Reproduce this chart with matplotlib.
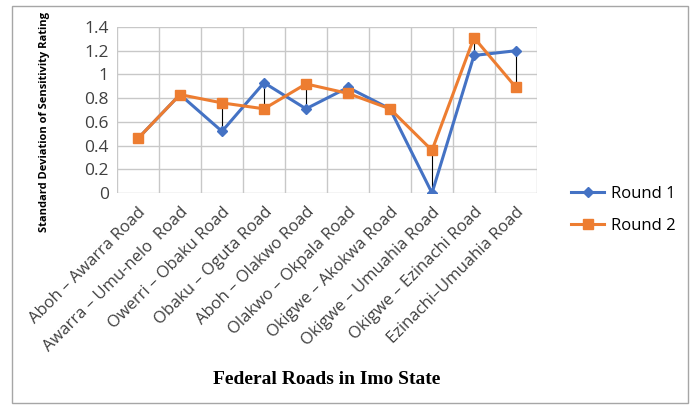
import matplotlib
matplotlib.use('Agg')
import matplotlib.pyplot as plt
import numpy as np

# data
roads = ['Aboh – Awarra Road', 'Awarra – Umu-nelo  Road', 'Owerri – Obaku Road',
         'Obaku – Oguta Road', 'Aboh – Olakwo Road', 'Olakwo – Okpala Road',
         'Okigwe – Akokwa Road', 'Okigwe – Umuahia Road', 'Okigwe – Ezinachi Road',
         'Ezinachi–Umuahia Road']
round1 = [0.46, 0.83, 0.52, 0.93, 0.71, 0.89, 0.71, 0.0, 1.16, 1.20]
round2 = [0.46, 0.83, 0.76, 0.71, 0.92, 0.84, 0.71, 0.36, 1.31, 0.89]

blue = '#4472C4'
orange = '#ED7D31'

fig = plt.figure(figsize=(6.93, 4.05), dpi=100)
ax = fig.add_axes([117/693, 1 - 193/405, 420/693, 166/405])

x = np.arange(len(roads))

# high-low lines
ax.vlines(x, np.minimum(round1, round2), np.maximum(round1, round2),
          color='black', lw=0.8, zorder=2)

ax.plot(x, round1, color=blue, lw=2.2, marker='D', ms=5, label='Round 1', zorder=3)
ax.plot(x, round2, color=orange, lw=2.2, marker='s', ms=6.5, label='Round 2', zorder=4)

ax.set_xlim(-0.5, len(roads) - 0.5)
ax.set_ylim(0, 1.4)
ax.set_yticks(np.arange(0, 1.41, 0.2))
ax.set_yticklabels(['0', '0.2', '0.4', '0.6', '0.8', '1', '1.2', '1.4'],
                   fontsize=12.5, family='Open Sans', color='#404040')

# grid at category boundaries
for b in np.arange(-0.5, len(roads), 1.0):
    ax.axvline(b, color='#C8C8C8', lw=1, zorder=0)
ax.grid(axis='y', color='#C8C8C8', lw=1, zorder=0)
ax.set_axisbelow(True)

ax.set_xticks(x)
ax.set_xticklabels(roads, rotation=45, ha='right', rotation_mode='anchor',
                   fontsize=12, family='Open Sans', color='#404040')
ax.tick_params(length=0, pad=6)
ax.tick_params(axis='x', pad=8)
for s in ax.spines.values():
    s.set_visible(False)

fig.text(45/693, 1 - 122/405, 'Standard Deviation of Sensitivity Rating',
         rotation=90, ha='center', va='center', fontsize=8, fontweight='bold',
         family='Open Sans')
fig.text(327/693, 1 - 379/405, 'Federal Roads in Imo State', ha='center',
         va='center', fontsize=14, fontweight='bold', family='Liberation Serif')

fig.legend(loc='center left', bbox_to_anchor=(556/693, 1 - 210/405), frameon=False,
           prop={'family': 'Open Sans', 'size': 12},
           handlelength=2.0, handletextpad=0.4, labelspacing=0.95)

# chart border
fig.patches.append(plt.Rectangle((12/693, 1 - 403/405), 676/693, 397/405,
                                 transform=fig.transFigure, fill=False,
                                 edgecolor='#A6A6A6', lw=1))

fig.savefig('out.png', dpi=100)
